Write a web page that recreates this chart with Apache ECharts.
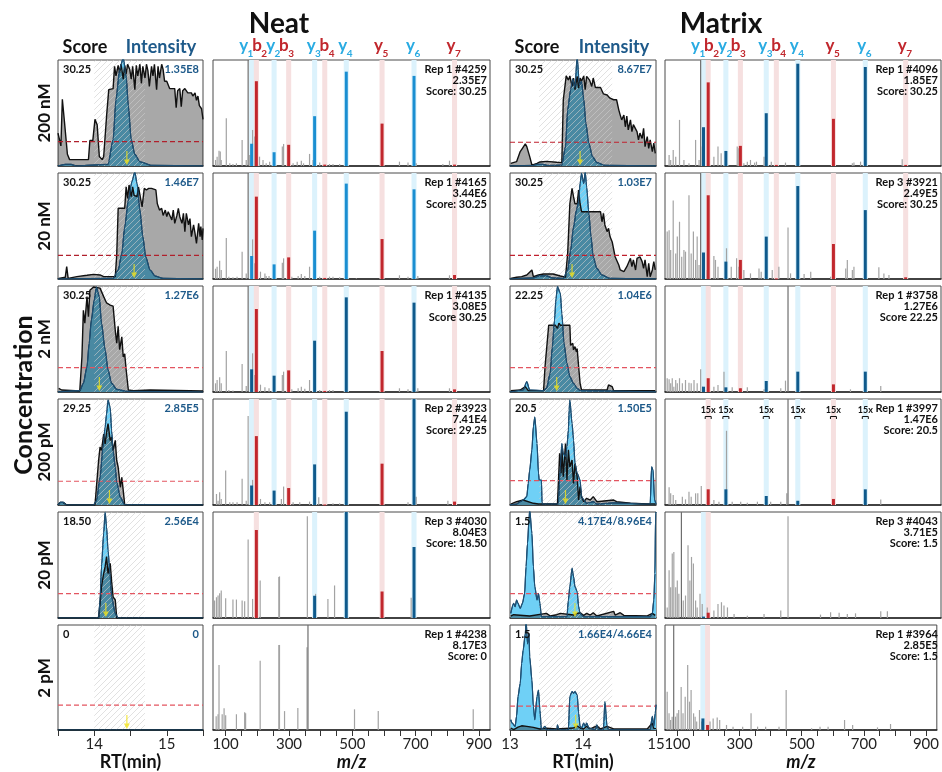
<!DOCTYPE html>
<html>
<head>
<meta charset="utf-8">
<script src="https://cdn.jsdelivr.net/npm/echarts@6/dist/echarts.min.js"></script>
<style>
  html, body { margin: 0; padding: 0; background: #fff; }
  #box { width: 942px; height: 772px; }
</style>
</head>
<body>
<div id="box"></div>
<script>
// ---------- data ----------
const rowNames = ['200 nM', '20 nM', '2 nM', '200 pM', '20 pM', '2 pM'];
const ionNames = ['y1', 'b2', 'y2', 'b3', 'y3', 'b4', 'y4', 'y5', 'y6', 'y7'];
const ionMz = [182, 197, 253, 299, 381, 413, 481, 594, 695, 823];

// RT traces, [rt (min), % of panel]
const scoreN1 = [[13.50,31],[13.52,30],[13.54,19],[13.56,63],[13.59,41],[13.63,11],[13.66,6],[13.78,6],[13.85,6],[13.92,6],[13.94,24],[13.98,24],[14.01,44],[14.04,39],[14.07,9],[14.11,6],[14.13,9],[14.17,47],[14.20,72],[14.26,73],[14.28,94],[14.30,85],[14.33,95],[14.35,88],[14.37,96],[14.40,82],[14.42,95],[14.44,87],[14.46,96],[14.49,91],[14.51,82],[14.53,94],[14.56,72],[14.58,95],[14.60,85],[14.63,96],[14.65,78],[14.67,94],[14.70,83],[14.72,96],[14.74,90],[14.76,75],[14.79,94],[14.81,85],[14.83,96],[14.86,72],[14.88,94],[14.90,83],[14.93,96],[14.95,91],[14.97,80],[15.00,80],[15.04,73],[15.08,73],[15.11,73],[15.13,55],[15.15,71],[15.18,73],[15.20,56],[15.22,71],[15.25,73],[15.29,69],[15.34,69],[15.36,66],[15.39,69],[15.41,62],[15.43,66],[15.45,57],[15.48,54],[15.50,44]];
const intN1 = [[13.50,0],[13.60,1.6],[13.68,1.6],[13.75,0],[14.19,1.6],[14.26,25],[14.30,63],[14.35,91],[14.40,102],[14.44,85],[14.47,57],[14.51,25],[14.56,11],[14.63,4],[14.79,0.6],[15.50,0]];
const scoreN2 = [[13.51,0.6],[13.60,1.6],[13.62,11.6],[13.64,0.6],[13.76,2.2],[13.90,3.5],[13.99,4.4],[14.08,3.8],[14.13,2.2],[14.29,2.2],[14.31,22.6],[14.33,66.7],[14.42,66.7],[14.44,87],[14.46,76],[14.48,88.7],[14.51,77.7],[14.53,87],[14.55,79],[14.59,77.7],[14.61,87],[14.63,85.5],[14.66,68],[14.69,85.5],[14.72,84],[14.75,85.5],[14.79,85.5],[14.81,84],[14.85,84],[14.87,71],[14.90,65],[14.93,66.7],[14.95,60],[14.98,65],[15.00,58.8],[15.02,63.5],[15.04,65],[15.07,55.7],[15.09,65],[15.11,52.5],[15.14,60],[15.16,66.7],[15.18,58.8],[15.21,52.5],[15.23,62],[15.25,44.7],[15.27,62],[15.30,51],[15.32,57],[15.34,40],[15.37,51],[15.39,43],[15.41,33.6],[15.44,52.5],[15.46,40],[15.47,49.4],[15.49,36.8],[15.50,47.8]];
const intN2 = [[13.50,0],[14.26,0.6],[14.33,8.5],[14.38,24],[14.42,49],[14.47,74.5],[14.52,92],[14.56,101],[14.59,90],[14.63,65],[14.67,40],[14.71,21],[14.77,8.5],[14.84,2.8],[14.95,0.6],[15.50,0]];
const scoreN3 = [[13.51,3.5],[13.55,1.9],[13.80,0.9],[13.83,33],[13.85,77],[13.87,65],[13.90,90],[13.92,71],[13.94,96],[13.99,99],[14.08,98],[14.13,90],[14.17,84],[14.22,82],[14.26,81],[14.29,58],[14.31,46],[14.33,62],[14.35,40],[14.38,52],[14.40,33],[14.42,36],[14.44,21],[14.47,1.9],[14.54,1.3],[14.77,1.9],[14.79,1.3],[15.50,0.9]];
const intN3 = [[13.50,0],[13.80,1.3],[13.85,8.2],[13.90,24],[13.93,46],[13.96,68],[14.00,87],[14.03,99],[14.07,90],[14.10,65],[14.15,40],[14.19,21],[14.24,8.2],[14.31,2.5],[14.45,0.6],[15.50,0]];
const scoreN4 = [[13.50,0],[13.53,2.5],[13.57,2.5],[13.62,0],[14.01,0],[14.03,16.7],[14.06,42],[14.08,54.6],[14.10,51.4],[14.13,67],[14.15,57.7],[14.17,68.8],[14.19,76.7],[14.22,61],[14.24,64],[14.26,51.4],[14.29,61],[14.31,42],[14.33,35.6],[14.36,16.7],[14.38,26],[14.40,13.6],[14.42,0.3],[15.50,0]];
const intN4 = [[13.50,0],[13.53,2.5],[13.57,2.5],[13.62,0],[13.99,0],[14.03,4],[14.08,26],[14.12,54.6],[14.15,73.5],[14.17,86],[14.19,99],[14.22,92],[14.24,70],[14.26,51.4],[14.29,35.6],[14.31,21.5],[14.36,7.3],[14.42,0.3],[15.50,0]];
const scoreN5 = [[13.50,0],[14.06,0],[14.08,13.8],[14.10,29.6],[14.13,42],[14.15,48.4],[14.17,58],[14.19,42],[14.22,51.6],[14.24,34.3],[14.26,20],[14.29,17],[14.31,0],[15.50,0]];
const intN5 = [[13.50,0],[14.06,0],[14.08,17],[14.10,48.4],[14.13,80],[14.15,100],[14.17,86],[14.19,64],[14.22,39],[14.24,20],[14.29,4.4],[14.33,0],[15.50,0]];
const scoreN6 = [[13.50,0],[15.50,0]];
const intN6 = [[13.50,0],[15.50,0]];

const scoreM1 = [[13.01,2.5],[13.09,4.1],[13.14,13.6],[13.17,16.7],[13.21,20.8],[13.23,18.3],[13.27,8.8],[13.30,0.9],[13.37,2.5],[13.41,3.8],[13.50,4.4],[13.64,3.5],[13.71,3.2],[13.73,62.5],[13.77,85],[13.80,81],[13.82,85],[13.85,75],[13.87,83],[13.89,72],[13.92,84.5],[13.94,73.5],[13.96,83],[13.98,80],[14.01,85],[14.03,72],[14.05,84.5],[14.09,81],[14.12,75],[14.14,83],[14.17,74],[14.24,74],[14.28,68],[14.33,67],[14.37,64],[14.42,62.5],[14.46,62.5],[14.49,53],[14.51,48],[14.53,43.5],[14.56,48],[14.58,37],[14.60,47],[14.62,34],[14.65,43.5],[14.67,32.5],[14.69,39],[14.74,32.5],[14.76,24.6],[14.78,31],[14.81,26],[14.83,35.6],[14.85,18.3],[14.88,27.8],[14.90,16.7],[14.92,24.6],[14.95,13.6],[14.97,21.5],[14.99,12]];
const intM1 = [[13.00,0],[13.30,0.5],[13.37,1.5],[13.45,1.5],[13.52,0.5],[13.71,0.9],[13.76,18],[13.79,53],[13.83,72],[13.86,82],[13.89,74],[13.92,103],[13.95,76],[13.98,80],[14.01,63],[14.04,40],[14.08,21.5],[14.13,8.8],[14.19,3.2],[14.30,0.6],[15.00,0]];
const scoreM2 = [[13.01,0.6],[13.09,1.6],[13.16,2.2],[13.23,3.8],[13.30,8.5],[13.32,2.2],[13.39,3.8],[13.46,4.7],[13.59,4.7],[13.69,2.8],[13.76,1.6],[13.79,24],[13.82,71],[13.85,85.5],[13.87,77.7],[13.89,71],[13.92,71],[13.94,84],[13.96,71],[13.98,63.5],[14.10,63.5],[14.24,63.5],[14.26,54],[14.28,62],[14.30,51],[14.33,44.7],[14.35,47.8],[14.37,40],[14.40,35],[14.42,36.8],[14.44,21],[14.46,21],[14.49,13.2],[14.51,8.5],[14.56,6.9],[14.60,11.6],[14.65,19.5],[14.67,11.6],[14.69,18],[14.72,8.5],[14.74,19.5],[14.76,18],[14.78,21],[14.81,16.4],[14.83,10],[14.85,18],[14.88,2.2],[14.90,14.8],[14.92,2.2],[14.95,8.5],[14.97,16.4],[14.99,8.5]];
const intM2 = [[13.00,0],[13.32,1],[13.40,3],[13.50,3],[13.58,1],[13.73,0.6],[13.79,8.5],[13.83,27],[13.87,49],[13.91,65],[13.94,73],[13.96,90],[13.98,99.7],[14.01,90],[14.03,101],[14.05,87],[14.08,62],[14.11,40],[14.14,21],[14.19,10],[14.26,3.8],[14.37,0.6],[15.00,0]];
const scoreM3 = [[13.01,1.3],[13.14,1.9],[13.21,5],[13.25,1.3],[13.46,1.3],[13.48,24],[13.53,63],[13.57,63],[13.62,63],[13.65,60],[13.67,65],[13.69,63],[13.82,63],[13.83,44],[13.86,46],[13.87,39.6],[13.89,42.8],[13.91,38],[13.92,41],[13.94,24],[13.96,8.2],[13.98,1.9],[14.33,1.9],[14.35,6.6],[14.37,8.2],[14.40,5],[14.42,1.3],[14.99,1.3]];
const intM3 = [[13.00,0],[13.18,1.9],[13.23,9.7],[13.27,1.9],[13.46,1.3],[13.50,3.5],[13.55,17.6],[13.58,42.8],[13.61,68],[13.63,88],[13.65,99.4],[13.69,93],[13.71,74],[13.74,46],[13.78,27],[13.82,14.5],[13.87,8.2],[13.92,3.5],[13.96,1.3],[15.00,0]];
const scoreM4 = [[13.01,0.9],[13.09,3.1],[13.18,4.7],[13.32,1.6],[13.39,0.9],[13.65,0.9],[13.68,48.7],[13.70,30],[13.71,55],[13.73,26.7],[13.76,58],[13.78,23.6],[13.80,52],[13.82,36],[13.85,42.5],[13.87,20.4],[13.89,39],[13.92,26.7],[13.94,4.7],[13.96,17.3],[13.98,7.9],[14.01,3.1],[14.05,6.3],[14.10,4.7],[14.14,7.9],[14.19,3.1],[14.42,4.7],[14.46,3.1],[14.65,1.6],[14.88,0.9],[14.99,0.9]];
const intM4 = [[13.00,0],[13.09,0.9],[13.14,3.1],[13.18,4.7],[13.23,7.9],[13.25,20.4],[13.27,33],[13.30,52],[13.32,74],[13.34,83],[13.37,58],[13.39,30],[13.40,23.6],[13.43,23.6],[13.44,0.9],[13.50,1],[13.66,0.9],[13.69,36],[13.71,58],[13.73,48.7],[13.76,45.6],[13.78,55],[13.80,70.8],[13.81,89.6],[13.82,99],[13.85,77],[13.87,61.6],[13.89,39.6],[13.92,30],[13.96,23.6],[13.98,7.9],[14.01,4.7],[14.05,1.6],[14.14,3.1],[14.19,0.9],[14.42,2],[14.92,0.9],[14.94,36],[14.96,33],[14.98,4.7],[15.00,0.9]];
const scoreM5 = [[13.01,1.9],[13.05,3.1],[13.27,1.9],[13.50,4.4],[13.55,1.9],[13.64,3.1],[13.69,4.4],[13.87,2.8],[13.92,4.4],[13.96,5],[14.01,2.5],[14.05,4.4],[14.10,2.8],[14.14,5],[14.19,1.9],[14.42,6.3],[14.44,2.8],[14.51,5],[14.56,2.5],[14.88,1.9],[14.95,4.4],[14.99,2.5]];
const intM5 = [[13.01,4.4],[13.05,13.8],[13.07,10.7],[13.09,17],[13.11,13.8],[13.14,9.1],[13.17,13.8],[13.20,23],[13.22,48.4],[13.24,70.4],[13.26,92.5],[13.27,102],[13.30,80],[13.32,48.4],[13.34,29.6],[13.37,17],[13.39,23],[13.41,13.8],[13.43,1.3],[13.78,1.3],[13.80,17],[13.82,29.6],[13.85,47],[13.87,39],[13.89,29.6],[13.92,24.8],[13.94,10.7],[13.96,4.4],[14.01,1.3],[14.92,1.3],[14.95,4.4],[14.97,17],[14.985,42],[14.995,98.7],[15.00,100]];
const scoreM6 = [[13.01,1.9],[13.05,0.3],[13.11,2.8],[13.16,4],[13.23,3.5],[13.32,2.5],[13.41,1],[13.50,1.6],[13.64,1],[13.87,1.9],[13.92,4],[13.96,1.9],[14.01,1],[14.05,3.5],[14.10,1],[14.19,4],[14.24,1],[14.33,3.5],[14.42,1],[14.88,1],[14.95,6.6],[14.97,1.6],[15.00,1.3]];
const intM6 = [[13.01,9.8],[13.03,6.6],[13.07,3.5],[13.09,13],[13.11,32],[13.14,44.5],[13.16,63.4],[13.18,76],[13.21,91.8],[13.22,105],[13.24,82],[13.26,91.8],[13.27,69.7],[13.30,47.6],[13.32,22.4],[13.34,9.8],[13.37,31.9],[13.39,38],[13.41,19],[13.43,0.3],[13.48,3.5],[13.50,0.3],[13.64,0.3],[13.65,5],[13.67,0.3],[13.80,0.3],[13.82,32],[13.85,36.6],[13.87,35],[13.89,36.6],[13.92,33.4],[13.94,16],[13.96,3.5],[13.98,1.9],[14.01,6.6],[14.03,3.5],[14.05,6.6],[14.08,1.9],[14.17,0.3],[14.19,5],[14.21,0.3],[14.28,0.3],[14.30,27],[14.33,3.5],[14.35,0.3],[14.92,0.3],[14.95,13],[14.97,3.5],[14.99,16],[15.00,24]];

// unmatched spectrum peaks, [m/z, % of panel]
const noiseN1 = [[68,5.7],[73,8.8],[79,14.5],[83,13.6],[86,5.7],[102,45],[113,2.5],[123,1.9],[134,2.5],[152,24.6],[165,5.7],[171,110],[176,10.4],[185,34],[192,27.8],[207,8.8],[218,5.7],[228,2.5],[239,4.1],[279,18.3],[283,20.8],[313,2.5],[326,4.1],[339,5],[346,2.5],[365,11.4],[376,5.7],[397,3.2],[428,1.9],[439,1.9],[460,1.9],[649,4.1],[676,3.2],[702,2.5],[786,1.9],[807,5]];
const noiseN2 = [[68,9.7],[73,11.6],[81,17.3],[86,8.5],[102,38.7],[110,2.2],[123,1.6],[136,2.2],[152,25.8],[165,5.3],[171,110],[185,37.4],[192,14.8],[210,6.9],[224,5.3],[228,2.8],[237,2.8],[279,15.4],[283,19.5],[309,2.2],[329,2.8],[339,4.7],[350,2.8],[365,11.6],[397,2.2],[428,2.2],[439,2.2],[460,1.6],[513,0.6],[649,3.5],[676,2.2],[707,2.8],[807,3.5]];
const noiseN3 = [[68,8.2],[73,11.3],[81,13.8],[86,8.2],[102,38.7],[110,1.9],[123,1.3],[152,26.4],[165,5.7],[171,110],[185,36.5],[192,16],[210,6.9],[224,4.4],[237,3.5],[279,16],[283,19.2],[309,2.5],[329,3.5],[339,5],[350,3.1],[365,11.3],[397,1.9],[428,1.9],[439,1.9],[649,3.5],[676,2.5],[707,3.5],[807,3.5]];
const noiseN4 = [[71,10.4],[76,4.1],[81,12],[86,5.7],[100,32.6],[113,2.5],[123,2.5],[136,2.5],[152,24.7],[165,4.1],[171,83.9],[185,23.7],[196,7.3],[210,5.7],[224,2.5],[239,2.5],[276,5.7],[283,17.4],[313,2.5],[334,2.5],[365,3.2],[394,7.3],[439,1.6],[460,1.6],[676,2.5],[702,7.9],[802,4.1]];
const noiseN5 = [[65,16.5],[71,19.6],[76,21.2],[81,23.4],[86,25.9],[100,18.7],[123,17.4],[134,17.4],[152,16.5],[160,15.8],[171,74],[185,18],[209,35.4],[268,38.6],[270,39.2],[358,96],[384,22.8],[423,18],[444,30.7],[686,19]];
const noiseN6 = [[70,13],[76,15],[79,62],[89,15],[95,20.6],[100,14],[134,15],[160,16.8],[163,15.9],[209,66],[268,81],[270,81],[286,18],[328,21],[357,78.7],[360,110],[507,19.7],[582,18],[882,19.7]];
const noiseM1 = [[73,10.4],[78,5.7],[86,15.1],[94,8.8],[106,43.5],[120,5.7],[136,2.5],[157,24.6],[168,5.7],[173,110],[178,18.3],[215,8.8],[228,18.3],[238,12],[289,18.3],[294,16.7],[310,2.5],[321,4.1],[331,5.7],[344,3.2],[350,4.1],[374,8.8],[397,4.1],[442,3.2],[654,2.5],[659,3.2],[680,4.1],[812,6.3]];
const noiseM2 = [[67,44.7],[73,46],[78,27.4],[86,74],[94,24],[99,40],[106,54],[113,21],[120,27.4],[125,25.8],[136,79],[143,24],[150,44.7],[157,18],[162,40],[168,13.2],[173,110],[181,5.3],[194,8.5],[215,21.7],[220,18],[228,11.6],[255,29],[270,11.6],[287,19.5],[294,11.6],[310,8.5],[331,5.3],[358,10],[365,6.9],[400,8.5],[421,11.6],[450,48.7],[458,5.3],[501,4.7],[522,6.9],[585,2.2],[633,10],[638,18],[654,8.5],[659,11.6],[738,11],[754,5.3],[770,3.8]];
const noiseM3 = [[67,13],[73,12],[78,8.2],[83,13],[88,5],[94,11.3],[99,8.2],[106,13],[115,8.2],[125,11.3],[136,8.8],[143,8.2],[152,11.3],[162,8.2],[173,21.4],[179,5],[215,5],[228,6.6],[247,19.2],[273,4.4],[300,3.5],[321,4.4],[374,2.5],[427,3.5],[442,10.7],[450,110],[648,2.5],[744,5.7]];
const noiseM4 = [[73,16.7],[78,11],[86,9.4],[94,4.7],[115,7.9],[125,5.3],[136,12.6],[143,7.9],[157,11],[164,11],[175,18],[215,4.7],[231,3.1],[255,70],[273,3.1],[300,3.1],[321,2.2],[353,3.1],[395,3.1],[427,3.1],[446,11],[450,110],[744,5.3]];
const noiseM5 = [[67,10],[73,45],[78,29],[83,60.8],[88,62.3],[94,29],[99,35.4],[104,22.8],[112,110],[118,16.5],[125,21.2],[133,68.7],[139,35.4],[144,57.6],[150,51.3],[157,16.5],[162,10],[171,22.8],[178,13.3],[194,10],[215,7],[228,13.3],[239,14.9],[247,11.7],[258,10],[279,3.8],[321,2.2],[374,3.8],[427,7],[450,96],[553,3.2],[585,5.4],[612,5],[638,3.8],[664,4.4],[744,6.3],[765,6.3]];
const noiseM6 = [[67,36.5],[73,15.9],[78,9.5],[83,12.7],[88,110],[94,12.7],[99,15.9],[104,19],[112,41],[118,15.9],[125,31.7],[133,62],[139,27],[144,38],[152,15.9],[157,12.7],[162,8],[171,19],[178,8],[205,8],[215,11],[228,12],[236,9.5],[258,4.8],[279,3.2],[310,3.2],[337,16],[358,3.2],[384,3.2],[427,3.2],[450,38],[532,1.6],[559,3.2],[585,3.2],[638,9.5],[664,4.8],[744,2.5],[786,5.7]];

// matched fragment ions, [ion, % of panel]
const ionsN1 = [['y1',21],['b2',80],['y2',13],['b3',20],['y3',47],['b4',1.3],['y4',89],['y5',40],['y6',85],['y7',1.3]];
const ionsN2 = [['y1',21.7],['b2',77.7],['y2',13.8],['b3',20.4],['y3',45.6],['b4',1],['y4',90],['y5',37.7],['y6',84.6],['y7',3.8]];
const ionsN3 = [['y1',21.4],['b2',78.3],['y2',15.4],['b3',20.4],['y3',48.4],['b4',1],['y4',89.3],['y5',38.7],['y6',84.3],['y7',2.5]];
const ionsN4 = [['y1',18.4],['b2',65],['y2',13.6],['b3',16],['y3',38.3],['b4',0.5],['y4',88],['y5',39],['y6',101],['y7',3.2]];
const ionsN5 = [['b2',83],['y3',21],['y4',101],['y5',25],['y6',67]];
const ionsN6 = [];
const ionsM1 = [['y1',36.6],['b2',78.9],['y2',14.2],['b3',19],['y3',49.8],['b4',1],['y4',96.5],['y5',44.5],['y6',93.4],['y7',1]];
const ionsM2 = [['y1',25],['b2',79],['y2',16.4],['b3',18],['y3',40],['b4',0.6],['y4',87.7],['y5',33],['y6',65],['y7',1.6]];
const ionsM3 = [['y1',5],['b2',13],['y2',4.4],['b3',3.5],['y3',10.4],['y4',19.2],['y5',7.2],['y6',19.2]];
const ionsM4 = [['b2',14.8],['y2',14.8],['y3',8.5],['y4',4],['y5',5.7],['y6',14.8]];
const ionsM5 = [['y1',1.3],['b2',5]];
const ionsM6 = [['y1',11],['b2',4.8]];
const scaledM4 = ['b2', 'y2', 'y3', 'y4', 'y5', 'y6'];

const neatLabels = [['30.25','1.35E8'],['30.25','1.46E7'],['30.25','1.27E6'],['29.25','2.85E5'],['18.50','2.56E4'],['0','0']];
const matrixLabels = [['30.25','8.67E7'],['30.25','1.03E7'],['22.25','1.04E6'],['20.5','1.50E5'],['1.5','4.17E4/8.96E4'],['1.5','1.66E4/4.66E4']];
const neatSpecText = [['Rep 1 #4259','2.35E7','Score: 30.25'],['Rep 1 #4165','3.44E6','Score: 30.25'],['Rep 1 #4135','3.08E5','Score 30.25'],['Rep 2 #3923','7.41E4','Score: 29.25'],['Rep 3 #4030','8.04E3','Score: 18.50'],['Rep 1 #4238','8.17E3','Score: 0']];
const matrixSpecText = [['Rep 1 #4096','1.85E7','Score: 30.25'],['Rep 3 #3921','2.49E5','Score: 30.25'],['Rep 1 #3758','1.27E6','Score 22.25'],['Rep 1 #3997','1.47E6','Score: 20.5'],['Rep 3 #4043','3.71E5','Score: 1.5'],['Rep 1 #3964','2.85E5','Score: 1.5']];
const neatArrow = [14.45, 14.55, 14.07, 14.21, 14.16, 14.45];
const matrixArrow = [13.96, 13.85, 13.64, 13.76, 13.89, 13.90];
const neatThreshold = [23, 22.3, 23, 22.4, 23, 23.6];
const matrixThreshold = [22.4, 22.3, 23, 23, 23, 22.7];
const neatWindow = [14.0, 14.7];
const matrixWindow = [13.4, 14.4];
const neatRange = [13.5, 15.5];
const matrixRange = [13, 15];
const mzTicks = [100,150,200,250,300,350,400,450,500,550,600,650,700,750,800,850,900];
const mzLabels = [100, 300, 500, 700, 900];

// ---------- layout ----------
const FONT = 'Lato, "Open Sans", sans-serif';
const colX = [58, 213, 510, 665];
const colW = [145, 277, 146, 276];
const rowY = [60, 173, 286, 399, 512, 625];
const rowH = 106;
const DARK = '#1e5a8a';
const ARROW = 'path://M4,0 L6,0 L6,11 L10,11 L5,18 L0,11 L4,11 Z';

// diagonal hatch for the RT window, laid over the traces
const hatchCanvas = document.createElement('canvas');
hatchCanvas.width = 6; hatchCanvas.height = 6;
const hctx = hatchCanvas.getContext('2d');
hctx.strokeStyle = 'rgba(205,205,205,0.6)';
hctx.lineWidth = 1;
hctx.beginPath();
hctx.moveTo(0, 6); hctx.lineTo(6, 0);
hctx.moveTo(-1, 1); hctx.lineTo(1, -1);
hctx.moveTo(5, 7); hctx.lineTo(7, 5);
hctx.stroke();
const hatchFill = { image: hatchCanvas, repeat: 'repeat' };

const neatScore = [scoreN1, scoreN2, scoreN3, scoreN4, scoreN5, scoreN6];
const neatInt = [intN1, intN2, intN3, intN4, intN5, intN6];
const matrixScore = [scoreM1, scoreM2, scoreM3, scoreM4, scoreM5, scoreM6];
const matrixInt = [intM1, intM2, intM3, intM4, intM5, intM6];
const neatNoise = [noiseN1, noiseN2, noiseN3, noiseN4, noiseN5, noiseN6];
const matrixNoise = [noiseM1, noiseM2, noiseM3, noiseM4, noiseM5, noiseM6];
const neatIons = [ionsN1, ionsN2, ionsN3, ionsN4, ionsN5, ionsN6];
const matrixIons = [ionsM1, ionsM2, ionsM3, ionsM4, ionsM5, ionsM6];

const grids = [], xAxes = [], yAxes = [], series = [];

function rtAxis(g, range, bottom) {
  return {
    type: 'value', gridIndex: g, min: range[0], max: range[1], interval: 0.5,
    axisLine: { show: true, lineStyle: { color: '#222', width: 1.5 } },
    axisTick: { show: bottom, inside: false, length: 6, lineStyle: { color: '#333' } },
    axisLabel: { show: bottom, margin: 7, fontSize: 15, color: '#222', fontFamily: FONT,
      formatter: v => (Math.abs(v - Math.round(v)) < 1e-6 ? String(Math.round(v)) : '') },
    splitLine: { show: false },
    name: bottom ? 'RT(min)' : '', nameLocation: 'middle', nameGap: 23,
    nameTextStyle: { fontSize: 18, fontWeight: 'bold', color: '#111', fontFamily: FONT }
  };
}

function mzAxis(g, bottom) {
  return {
    type: 'value', gridIndex: g, min: 60, max: 935,
    axisLine: { show: true, lineStyle: { color: '#222', width: 1.5 } },
    axisTick: { show: bottom, inside: false, length: 6, customValues: mzTicks, lineStyle: { color: '#333' } },
    axisLabel: { show: bottom, margin: 7, fontSize: 15, color: '#222', fontFamily: FONT, customValues: mzLabels },
    splitLine: { show: false },
    name: bottom ? 'm/z' : '', nameLocation: 'middle', nameGap: 23,
    nameTextStyle: { fontSize: 18, fontWeight: 'bold', fontStyle: 'italic', color: '#111', fontFamily: FONT }
  };
}

// intensity (light blue) first, score as a translucent dark layer over it,
// so the overlap turns teal as in the figure
function rtPanel(g, range, score, inten, win, thr, arrowRt, thrColor) {
  const base = { xAxisIndex: g, yAxisIndex: g, silent: true };
  return [
    Object.assign({ type: 'line', data: inten, symbol: 'none', z: 2, smooth: 0.25, smoothMonotone: 'x',
      lineStyle: { color: '#1d4f74', width: 1.2 }, areaStyle: { color: '#6fd0f6', opacity: 1 } }, base),
    Object.assign({ type: 'line', data: score, symbol: 'none', z: 3,
      lineStyle: { width: 0, opacity: 0 }, areaStyle: { color: '#000', opacity: 0.34 } }, base),
    Object.assign({ type: 'custom', data: [win], z: 4,
      renderItem: (p, api) => {
        const a = api.coord([api.value(0), 100]), b = api.coord([api.value(1), 0]);
        return { type: 'rect', shape: { x: a[0], y: a[1], width: b[0] - a[0], height: b[1] - a[1] }, style: { fill: hatchFill } };
      } }, base),
    Object.assign({ type: 'line', data: score, symbol: 'none', z: 5,
      lineStyle: { color: '#111', width: 1.4 } }, base),
    Object.assign({ type: 'line', data: [[range[0], thr], [range[1], thr]], symbol: 'none', z: 5,
      lineStyle: { color: thrColor, type: [5, 3], width: 1.2 } }, base),
    Object.assign({ type: 'line', data: inten, symbol: 'none', z: 6, smooth: 0.25, smoothMonotone: 'x',
      lineStyle: { color: '#1d4f74', width: 1.1 } }, base),
    Object.assign({ type: 'scatter', data: [[arrowRt, 0]], symbol: ARROW,
      symbolSize: [6, 14], symbolOffset: [0, -8], itemStyle: { color: '#f3e41a' }, z: 7 }, base)
  ];
}

function msPanel(g, noise, ions, blue, scaled) {
  const base = { xAxisIndex: g, yAxisIndex: g, silent: true };
  const ionData = ions.map(([n, h]) => { const i = ionNames.indexOf(n); return [ionMz[i], h, i]; });
  return [
    Object.assign({ type: 'custom', data: ionData, z: 1,
      renderItem: (p, api) => {
        const mz = api.value(0), i = api.value(2);
        const a = api.coord([mz - 8, 100]), b = api.coord([mz + 8, 0]);
        return { type: 'rect', shape: { x: a[0], y: a[1], width: b[0] - a[0], height: b[1] - a[1] },
          style: { fill: i % 2 ? '#f6e0e0' : '#dcf2fc' } };
      } }, base),
    Object.assign({ type: 'custom', data: noise, z: 2,
      renderItem: (p, api) => {
        const h = api.value(1);
        const t = api.coord([api.value(0), Math.min(h, 100)]), b = api.coord([api.value(0), 0]);
        return { type: 'rect', shape: { x: t[0] - 0.6, y: t[1], width: 1.2, height: b[1] - t[1] },
          style: { fill: h > 100 ? '#6e6e6e' : '#a3a3a3' } };
      } }, base),
    Object.assign({ type: 'custom', data: ionData, z: 3,
      renderItem: (p, api) => {
        const mz = api.value(0), h = api.value(1), i = api.value(2);
        const t = api.coord([mz, Math.min(h, 100)]), b = api.coord([mz, 0]);
        const top = api.coord([mz, 100])[1];
        const children = [{ type: 'rect', shape: { x: t[0] - 1.5, y: t[1], width: 3, height: Math.max(b[1] - t[1], 1) },
          style: { fill: i % 2 ? '#c1272d' : blue } }];
        if (scaled && scaled.indexOf(ionNames[i]) >= 0) {
          children.push({ type: 'text', x: t[0], y: top + 11,
            style: { text: '15x', font: 'bold 9px ' + FONT, fill: '#111', textAlign: 'center', textVerticalAlign: 'middle' } });
          children.push({ type: 'polyline', shape: { points: [[t[0] - 3, top + 20], [t[0] - 3, top + 17.5], [t[0] + 3, top + 17.5], [t[0] + 3, top + 20]] },
            style: { stroke: '#111', lineWidth: 1, fill: null } });
        }
        return { type: 'group', children: children };
      } }, base)
  ];
}

for (let r = 0; r < 6; r++) {
  const bottom = r === 5;
  for (let c = 0; c < 4; c++) {
    const g = r * 4 + c;
    grids.push({ left: colX[c], top: rowY[r], width: colW[c], height: rowH, show: true,
      borderColor: '#4a4a4a', borderWidth: 1, backgroundColor: 'transparent', containLabel: false });
    yAxes.push({ type: 'value', gridIndex: g, min: 0, max: 100, show: false });
    if (c === 0) xAxes.push(rtAxis(g, neatRange, bottom));
    else if (c === 2) xAxes.push(rtAxis(g, matrixRange, bottom));
    else xAxes.push(mzAxis(g, bottom));
  }
  const g = r * 4;
  series.push(...rtPanel(g, neatRange, neatScore[r], neatInt[r], neatWindow, neatThreshold[r], neatArrow[r], r < 2 ? '#b0202c' : '#e35560'));
  series.push(...msPanel(g + 1, neatNoise[r], neatIons[r], r < 2 ? '#1a8ed1' : '#0f5a8c', null));
  series.push(...rtPanel(g + 2, matrixRange, matrixScore[r], matrixInt[r], matrixWindow, matrixThreshold[r], matrixArrow[r], r < 2 ? '#c0202e' : '#e35560'));
  series.push(...msPanel(g + 3, matrixNoise[r], matrixIons[r], '#0f5a8c', r === 3 ? scaledM4 : null));
}

const chart = echarts.init(document.getElementById('box'), null, { renderer: 'canvas' });
chart.setOption({
  backgroundColor: '#fff',
  animation: false,
  grid: grids, xAxis: xAxes, yAxis: yAxes, series: series
});

// ---------- text ----------
function txt(x, y, text, font, fill, align, valign, rot) {
  return { type: 'text', x: x, y: y, rotation: rot || 0, z: 100, silent: true,
    style: { text: text, font: font, fill: fill, textAlign: align || 'center', textVerticalAlign: valign || 'middle' } };
}
const gfx = [];
gfx.push(txt(279, 24, 'Neat', 'bold 28px ' + FONT, '#111'));
gfx.push(txt(721, 24, 'Matrix', 'bold 28px ' + FONT, '#111'));
gfx.push(txt(85, 47, 'Score', 'bold 18px ' + FONT, '#111'));
gfx.push(txt(161, 47, 'Intensity', 'bold 18px ' + FONT, DARK));
gfx.push(txt(537, 47, 'Score', 'bold 18px ' + FONT, '#111'));
gfx.push(txt(614, 47, 'Intensity', 'bold 18px ' + FONT, DARK));
gfx.push(txt(24, 395, 'Concentration', 'bold 25px ' + FONT, '#111', 'center', 'middle', Math.PI / 2));

// ion letters sit just left of their band, with the number as a subscript
const ionShift = [-3.5, 5.5, 1, 0, 1, 4.5, 1, 1, 1, 1];
[1, 3].forEach(ax => {
  ionNames.forEach((n, i) => {
    const x = chart.convertToPixel({ xAxisIndex: ax }, ionMz[i]) + ionShift[i];
    const col = (i % 2) ? '#c1272d' : '#29abe2';
    gfx.push(txt(x, 46, n[0], 'bold 17px ' + FONT, col, 'right'));
    gfx.push(txt(x - 0.5, 54, n[1], 'bold 10px ' + FONT, col, 'left'));
  });
});

for (let r = 0; r < 6; r++) {
  const y = rowY[r];
  gfx.push(txt(45, y + rowH / 2, rowNames[r], 'bold 17px ' + FONT, '#111', 'center', 'middle', Math.PI / 2));
  gfx.push(txt(colX[0] + 5, y + 4, neatLabels[r][0], 'bold 11px ' + FONT, '#111', 'left', 'top'));
  gfx.push(txt(colX[0] + colW[0] - 4, y + 4, neatLabels[r][1], 'bold 11px ' + FONT, DARK, 'right', 'top'));
  gfx.push(txt(colX[2] + 5, y + 4, matrixLabels[r][0], 'bold 11px ' + FONT, '#111', 'left', 'top'));
  gfx.push(txt(colX[2] + colW[2] - 4, y + 4, matrixLabels[r][1], 'bold 11px ' + FONT, DARK, 'right', 'top'));
  [[1, neatSpecText[r]], [3, matrixSpecText[r]]].forEach(([c, lines]) => {
    lines.forEach((s, k) => {
      gfx.push(txt(colX[c] + colW[c] - 3, y + 4 + k * 10.8, s, 'bold 11px ' + FONT, '#111', 'right', 'top'));
    });
  });
}
chart.setOption({ graphic: gfx });
</script>
</body>
</html>
